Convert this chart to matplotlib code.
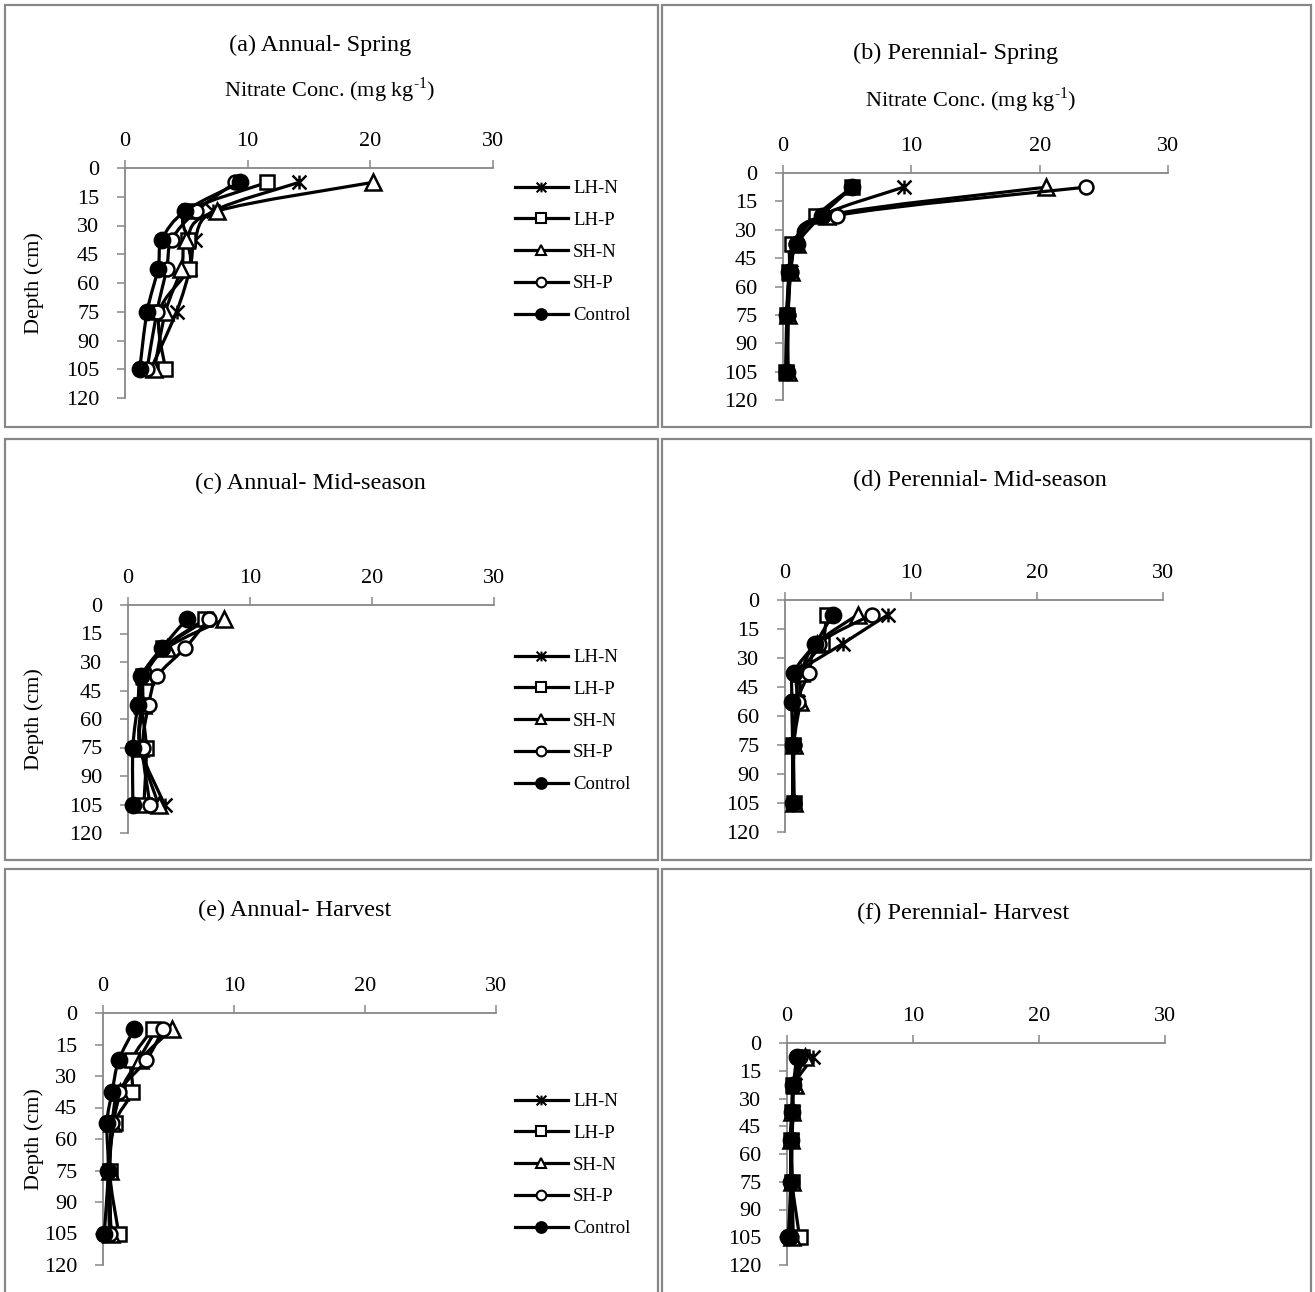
import numpy as np
import matplotlib
matplotlib.use('Agg')
import matplotlib.pyplot as plt
from matplotlib.path import Path
from matplotlib.patches import PathPatch, Rectangle
from matplotlib.lines import Line2D

plt.rcParams['font.family'] = 'Liberation Serif'
plt.rcParams['mathtext.fontset'] = 'custom'
plt.rcParams['mathtext.rm'] = 'Liberation Serif'

W, H = 1315, 1292

# sampling depths (cm) and treatments
depth = [7.5, 22.5, 37.5, 52.5, 75, 105]
treatments = ['LH-N', 'LH-P', 'SH-N', 'SH-P', 'Control']
depth_ticks = [0, 15, 30, 45, 60, 75, 90, 105, 120]
conc_ticks = [0, 10, 20, 30]

# nitrate conc. (mg/kg), one row per treatment in the order above
annual_spring = [
    [14.2, 7.2, 5.7, 5.3, 4.2, 2.1],
    [11.6, 5.2, 5.1, 5.2, 2.8, 3.3],
    [20.2, 7.5, 5.0, 4.6, 3.3, 2.4],
    [9.0, 5.8, 3.8, 3.4, 2.6, 1.8],
    [9.4, 4.9, 3.0, 2.7, 1.8, 1.2],
]
perennial_spring = [
    [9.4, 3.0, 1.0, 0.6, 0.3, 0.3],
    [5.4, 2.6, 0.7, 0.5, 0.3, 0.2],
    [20.5, 3.4, 1.1, 0.6, 0.4, 0.4],
    [23.6, 4.2, 1.0, 0.6, 0.4, 0.3],
    [5.4, 3.0, 1.1, 0.5, 0.3, 0.3],
]
annual_mid = [
    [6.5, 3.0, 1.3, 1.1, 1.0, 3.0],
    [6.3, 2.9, 1.2, 1.1, 1.5, 1.3],
    [7.9, 3.2, 1.4, 1.2, 1.0, 2.5],
    [6.6, 4.7, 2.4, 1.7, 1.2, 1.8],
    [4.8, 2.8, 1.1, 0.8, 0.4, 0.4],
]
perennial_mid = [
    [8.2, 4.6, 1.2, 1.0, 0.7, 0.7],
    [3.3, 2.9, 1.2, 0.9, 0.6, 0.7],
    [5.8, 2.5, 1.3, 1.2, 0.7, 0.7],
    [6.9, 2.7, 1.9, 1.0, 0.7, 0.7],
    [3.8, 2.4, 0.7, 0.55, 0.6, 0.6],
]
annual_harvest = [
    [4.1, 2.7, 1.4, 0.8, 0.5, 0.6],
    [3.8, 2.2, 2.2, 0.9, 0.5, 1.2],
    [5.3, 2.8, 1.3, 0.7, 0.5, 0.6],
    [4.6, 3.3, 1.2, 0.7, 0.4, 0.5],
    [2.4, 1.2, 0.7, 0.3, 0.4, 0.1],
]
perennial_harvest = [
    [2.1, 0.6, 0.5, 0.4, 0.4, 0.5],
    [1.2, 0.5, 0.4, 0.3, 0.4, 1.0],
    [1.4, 0.6, 0.4, 0.3, 0.4, 0.4],
    [1.0, 0.5, 0.4, 0.3, 0.3, 0.3],
    [0.8, 0.5, 0.4, 0.3, 0.3, 0.1],
]

# asterisk marker: X with a vertical bar
star = Path([(0, -1), (0, 1), (-1, -1), (1, 1), (-1, 1), (1, -1)],
            [Path.MOVETO, Path.LINETO] * 3)
markers = [
    dict(marker=star, mfc='none'),
    dict(marker='s', mfc='white'),
    dict(marker='^', mfc='white'),
    dict(marker='o', mfc='white'),
    dict(marker='o', mfc='black'),
]
msizes = [10, 10, 11, 10, 11]

GRAY = '#878787'
LW = 2.3


def px_box(x0, x1, y0, y1):
    return [x0 / W, 1 - y1 / H, (x1 - x0) / W, (y1 - y0) / H]


def smooth_line(ax, xs, ys, z):
    # smoothed curve through the points, built in display space
    pts = ax.transData.transform(np.column_stack([xs, ys]))
    n = len(pts)
    verts = [pts[0]]
    codes = [Path.MOVETO]
    for i in range(n - 1):
        p0 = pts[max(i - 1, 0)]
        p1 = pts[i]
        p2 = pts[i + 1]
        p3 = pts[min(i + 2, n - 1)]
        verts += [p1 + (p2 - p0) / 6, p2 - (p3 - p1) / 6, p2]
        codes += [Path.CURVE4] * 3
    verts = ax.transData.inverted().transform(np.array(verts))
    ax.add_patch(PathPatch(Path(verts, codes), fill=False, lw=LW,
                           edgecolor='black', zorder=z, clip_on=False,
                           capstyle='round', joinstyle='round'))


fig = plt.figure(figsize=(W / 100, H / 100), dpi=100)

# panel frames
for (x0, x1, y0, y1) in [(5, 658, 5, 427), (662, 1311, 5, 427),
                         (5, 658, 439, 860), (662, 1311, 439, 860),
                         (5, 658, 869, 1310), (662, 1311, 869, 1310)]:
    fig.add_artist(Rectangle((x0 / W, 1 - y1 / H), (x1 - x0) / W, (y1 - y0) / H,
                             transform=fig.transFigure, fill=False,
                             edgecolor=GRAY, lw=1.6))

# data, title, axes box (px), title pos, x-label pos, first legend row y
panels = [
    (annual_spring, '(a) Annual- Spring', (125, 493, 168, 398), (320, 45), (330, 90), 187),
    (perennial_spring, '(b) Perennial- Spring', (783, 1168, 173, 400), (956, 53), (971, 100), None),
    (annual_mid, '(c) Annual- Mid-season', (128, 494, 605, 833), (310, 483), None, 656),
    (perennial_mid, '(d) Perennial- Mid-season', (785, 1163, 600, 832), (980, 480), None, None),
    (annual_harvest, '(e) Annual- Harvest', (103, 496, 1013, 1265), (295, 910), None, 1100),
    (perennial_harvest, '(f) Perennial- Harvest', (787, 1165, 1043, 1265), (963, 913), None, None),
]

for data, title, box, tpos, xlpos, leg_y in panels:
    x0, x1, y0, y1 = box
    ax = fig.add_axes(px_box(x0, x1, y0, y1))
    ax.set_xlim(0, 30)
    ax.set_ylim(120, 0)
    ax.patch.set_alpha(0)
    for s in ['right', 'bottom']:
        ax.spines[s].set_visible(False)
    for s in ['left', 'top']:
        ax.spines[s].set_color(GRAY)
        ax.spines[s].set_linewidth(1.3)
    ax.xaxis.tick_top()
    ax.set_xticks(conc_ticks)
    ax.set_yticks(depth_ticks)
    ax.tick_params(axis='both', colors=GRAY, labelcolor='black', labelsize=16,
                   length=5.5, width=1.1, direction='out')
    ax.tick_params(axis='x', pad=7)
    ax.tick_params(axis='y', pad=13)

    for i, vals in enumerate(data):
        z = 3 + i
        smooth_line(ax, vals, depth, z)
        ax.plot(vals, depth, linestyle='none', color='black', ms=msizes[i],
                mew=1.8, mec='black', zorder=z + 0.5, clip_on=False, **markers[i])

    fig.text(tpos[0] / W, 1 - tpos[1] / H, title, fontsize=17.5,
             ha='center', va='center')
    if xlpos is not None:
        fig.text(xlpos[0] / W, 1 - xlpos[1] / H,
                 r'Nitrate Conc. (mg kg$^{\text{-1}}$)', fontsize=16,
                 ha='center', va='center')
    if leg_y is not None:
        fig.text(34 / W, 1 - (y0 + y1) / 2 / H, 'Depth (cm)', fontsize=16,
                 rotation=90, ha='center', va='center')
        handles = [Line2D([], [], color='black', lw=LW, ms=msizes[i] * 0.7,
                          mew=1.5, mec='black', **markers[i])
                   for i in range(len(treatments))]
        ax.legend(handles, treatments, loc='upper left',
                  bbox_to_anchor=(515 / W, 1 - (leg_y - 7) / H),
                  bbox_transform=fig.transFigure, frameon=False,
                  fontsize=13.5, handlelength=2.8, handletextpad=0.3,
                  labelspacing=0.78, borderaxespad=0, borderpad=0)

fig.savefig('out.png', dpi=100)
